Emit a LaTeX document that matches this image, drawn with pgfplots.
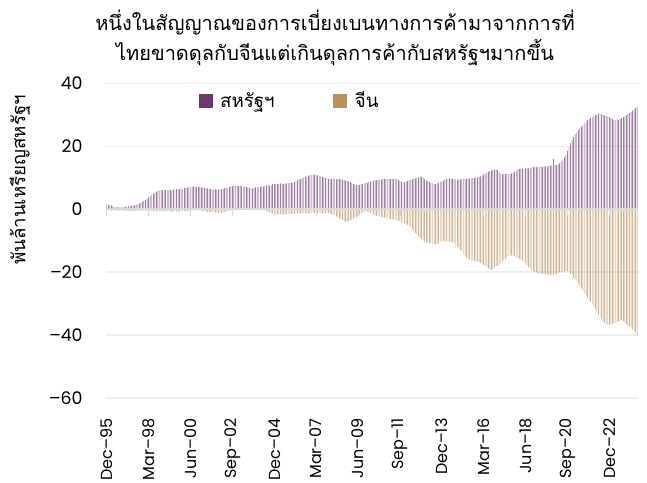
\documentclass[border=0pt]{standalone}
\usepackage{fontspec}
\setmainfont{Poppins}
\newfontfamily\thai[Script=Thai]{Loma}
\usepackage{pgfplots}
\usepackage{pgfplotstable}
\pgfplotsset{compat=1.18}
\definecolor{uspurple}{RGB}{106,58,110}
\definecolor{cntan}{RGB}{185,145,95}
\definecolor{gridgray}{RGB}{238,238,238}
\definecolor{zerogray}{RGB}{217,217,217}

% monthly values, Dec-95 ... Jun-24 (343 months), billion USD
\pgfplotstableread[row sep=\\]{
v\\
1.5\\1.4\\1.3\\1.2\\1.0\\0.8\\0.7\\0.6\\0.6\\0.5\\0.7\\0.6\\
0.8\\0.7\\0.9\\1.0\\1.1\\1.0\\1.3\\1.5\\1.6\\1.9\\2.1\\2.4\\
2.7\\3.0\\3.3\\3.8\\4.2\\4.6\\5.0\\5.3\\5.6\\5.8\\6.0\\6.1\\
6.0\\6.2\\6.1\\6.0\\6.1\\6.2\\6.0\\6.3\\6.2\\6.4\\6.3\\6.5\\
6.4\\6.6\\6.7\\6.8\\6.9\\7.1\\7.2\\7.3\\7.2\\7.3\\7.1\\7.2\\
7.1\\7.0\\6.9\\6.8\\6.7\\6.6\\6.5\\6.4\\6.3\\6.2\\6.3\\6.2\\
6.3\\6.4\\6.3\\6.5\\6.7\\6.8\\7.0\\7.1\\7.2\\7.3\\7.4\\7.5\\
7.5\\7.4\\7.5\\7.3\\7.2\\7.3\\7.1\\7.0\\6.8\\6.7\\6.6\\6.8\\
7.0\\7.1\\7.0\\7.2\\7.3\\7.2\\7.4\\7.5\\7.6\\7.5\\7.6\\8.0\\
8.1\\8.0\\8.1\\8.0\\8.2\\8.1\\8.0\\8.1\\8.2\\8.3\\8.2\\8.4\\
8.5\\8.7\\9.0\\9.2\\9.4\\9.6\\9.8\\10.1\\10.3\\10.5\\10.7\\10.8\\
10.9\\10.9\\11.0\\10.9\\10.8\\10.6\\10.5\\10.3\\10.1\\9.9\\9.8\\9.7\\
9.6\\9.6\\9.7\\9.6\\9.5\\9.6\\9.6\\9.5\\9.4\\9.3\\9.1\\9.0\\
8.9\\8.7\\8.4\\8.1\\7.9\\7.7\\7.6\\7.7\\7.9\\8.1\\8.2\\8.3\\
8.4\\8.6\\8.8\\9.0\\9.1\\9.2\\9.3\\9.4\\9.5\\9.5\\9.6\\9.6\\
9.7\\9.6\\9.7\\9.6\\9.5\\9.6\\9.7\\9.6\\9.3\\9.0\\8.8\\8.6\\
8.6\\8.8\\9.0\\9.2\\9.4\\9.5\\9.6\\9.8\\10.0\\10.1\\10.2\\10.3\\
10.0\\9.6\\9.2\\9.0\\8.7\\8.4\\8.2\\8.1\\8.1\\8.2\\8.4\\8.6\\
8.8\\9.1\\9.4\\9.7\\9.9\\9.8\\9.7\\9.6\\9.5\\9.5\\9.4\\9.4\\
9.5\\9.6\\9.7\\9.6\\9.6\\9.7\\9.8\\9.8\\9.9\\9.9\\10.0\\10.1\\
10.3\\10.5\\10.7\\11.0\\11.3\\11.6\\11.9\\12.1\\12.3\\12.5\\12.6\\12.6\\
12.5\\11.8\\11.3\\11.3\\11.2\\11.3\\11.3\\11.2\\11.3\\11.4\\11.6\\12.0\\
12.4\\12.7\\12.8\\12.9\\13.0\\12.9\\13.0\\13.1\\13.0\\13.2\\13.3\\13.4\\
13.4\\13.3\\13.4\\13.5\\13.4\\13.5\\13.6\\13.7\\13.6\\13.8\\13.9\\14.0\\
16.0\\14.1\\14.0\\14.2\\14.6\\15.2\\15.8\\16.5\\17.4\\18.5\\19.8\\21.0\\
22.0\\23.0\\23.8\\24.5\\25.2\\25.8\\26.3\\26.8\\27.4\\27.9\\28.4\\28.7\\
29.0\\29.3\\29.6\\29.9\\30.2\\30.4\\30.3\\30.2\\30.0\\29.8\\29.7\\29.5\\
29.3\\29.0\\28.7\\28.4\\28.3\\28.6\\28.4\\28.7\\29.0\\29.3\\29.6\\30.0\\
30.3\\30.6\\31.0\\31.4\\31.8\\32.2\\32.7\\
}\usdata

\pgfplotstableread[row sep=\\]{
v\\
-0.3\\-0.2\\-0.3\\-0.4\\-0.3\\-0.4\\-0.3\\-0.5\\-0.4\\-0.3\\-0.4\\-0.5\\
-0.4\\-0.5\\-0.4\\-0.6\\-0.5\\-0.4\\-0.5\\-0.6\\-0.5\\-0.4\\-0.5\\-0.4\\
-0.3\\-0.4\\-0.5\\-0.6\\-0.5\\-0.7\\-0.6\\-0.5\\-0.6\\-0.7\\-0.6\\-0.7\\
-0.6\\-0.7\\-0.6\\-0.5\\-0.6\\-0.7\\-0.8\\-0.7\\-0.6\\-0.7\\-0.8\\-0.7\\
-0.6\\-0.5\\-0.6\\-0.5\\-0.4\\-0.5\\-0.4\\-0.3\\-0.4\\-0.3\\-0.2\\-0.3\\
-0.3\\-0.4\\-0.5\\-0.6\\-0.7\\-0.8\\-0.9\\-0.8\\-0.7\\-0.9\\-1.0\\-1.1\\
-1.2\\-1.3\\-1.2\\-1.0\\-0.9\\-0.8\\-0.6\\-0.5\\-0.4\\-0.3\\-0.2\\-0.2\\
-0.1\\-0.1\\-0.2\\-0.1\\-0.2\\-0.3\\-0.2\\-0.2\\-0.1\\-0.2\\-0.3\\-0.2\\
-0.2\\-0.3\\-0.2\\-0.1\\-0.2\\-0.3\\-0.3\\-0.5\\-0.8\\-1.0\\-1.2\\-1.4\\
-1.5\\-1.6\\-1.5\\-1.6\\-1.5\\-1.6\\-1.7\\-1.5\\-1.6\\-1.5\\-1.4\\-1.5\\
-1.4\\-1.5\\-1.3\\-1.4\\-1.2\\-1.3\\-1.4\\-1.3\\-1.2\\-1.3\\-1.2\\-1.3\\
-1.2\\-1.1\\-1.2\\-1.3\\-1.2\\-1.1\\-1.2\\-1.3\\-1.2\\-1.3\\-1.4\\-1.3\\
-1.4\\-1.6\\-1.8\\-2.0\\-2.3\\-2.6\\-2.8\\-3.1\\-3.4\\-3.7\\-3.9\\-3.9\\
-3.8\\-3.5\\-3.2\\-3.0\\-2.7\\-2.4\\-2.0\\-1.7\\-1.3\\-1.0\\-0.8\\-0.7\\
-0.7\\-0.8\\-1.1\\-1.5\\-1.8\\-2.0\\-2.1\\-2.2\\-2.3\\-2.4\\-2.6\\-2.7\\
-2.8\\-2.9\\-3.0\\-3.1\\-3.2\\-3.3\\-3.4\\-3.5\\-3.6\\-3.8\\-4.0\\-4.2\\
-4.3\\-4.6\\-5.0\\-5.4\\-5.8\\-6.3\\-6.9\\-7.5\\-8.0\\-8.6\\-9.2\\-9.7\\
-10.0\\-10.3\\-10.5\\-10.6\\-10.7\\-10.9\\-11.0\\-11.1\\-11.2\\-11.0\\-10.7\\-10.4\\
-10.2\\-10.1\\-10.2\\-10.3\\-10.2\\-10.3\\-10.4\\-10.5\\-10.8\\-11.3\\-11.9\\-12.5\\
-12.9\\-13.5\\-14.2\\-14.9\\-15.5\\-15.8\\-16.0\\-16.2\\-16.3\\-16.4\\-16.5\\-16.6\\
-16.8\\-17.1\\-17.4\\-17.7\\-18.0\\-18.4\\-18.8\\-19.1\\-19.3\\-19.0\\-18.6\\-18.2\\
-17.9\\-17.5\\-17.0\\-16.6\\-16.2\\-15.8\\-15.3\\-15.0\\-14.8\\-14.7\\-14.7\\-14.9\\
-15.2\\-15.5\\-15.7\\-16.0\\-16.4\\-16.8\\-17.2\\-17.7\\-18.3\\-18.9\\-19.4\\-19.7\\
-19.9\\-20.1\\-20.3\\-20.4\\-20.5\\-20.6\\-20.6\\-20.7\\-20.8\\-20.8\\-20.9\\-20.8\\
-20.8\\-20.7\\-20.5\\-20.3\\-20.1\\-20.0\\-19.9\\-19.8\\-19.7\\-19.8\\-20.0\\-20.6\\
-21.2\\-21.8\\-22.3\\-23.0\\-23.7\\-24.4\\-25.2\\-26.0\\-26.9\\-27.5\\-28.1\\-28.8\\
-29.5\\-30.2\\-31.0\\-31.8\\-32.7\\-33.6\\-34.4\\-35.1\\-35.7\\-36.2\\-36.6\\-36.8\\
-36.8\\-36.6\\-36.4\\-36.3\\-36.2\\-36.0\\-35.7\\-35.4\\-35.2\\-35.6\\-36.1\\-36.6\\
-37.0\\-37.3\\-37.6\\-38.1\\-38.7\\-39.4\\-40.1\\
}\cndata

\begin{document}
\begin{tikzpicture}
\begin{axis}[
  scale only axis,
  width=399pt, height=235.65pt,
  xmin=-0.5, xmax=342.5,
  ymin=-60, ymax=40,
  clip=false,
  axis line style={draw=none},
  tick style={draw=none},
  ytick={-60,-40,-20,0,20,40},
  yticklabels={–60,–40,–20,0,20,40},
  ymajorgrids,
  grid style={gridgray, line width=1.1pt},
  xtick={0,27,54,81,108,135,162,189,216,243,270,297,324},
  xticklabels={Dec–95,Mar–98,Jun–00,Sep–02,Dec–04,Mar–07,Jun–09,Sep–11,Dec–13,Mar–16,Jun–18,Sep–20,Dec–22},
  yticklabel style={font=\fontsize{13}{15}\selectfont},
  xticklabel style={rotate=90, anchor=east, font=\fontsize{12}{14}\selectfont},
  xticklabel shift=12pt,
  yticklabel shift=14pt,
  legend columns=2,
  legend style={draw=none, fill=none, at={(0.166,0.945)}, anchor=west,
    font=\thai\fontsize{14}{16}\selectfont,
    /tikz/every odd column/.append style={column sep=4pt},
    /tikz/every even column/.append style={column sep=42pt}},
]
\addlegendimage{legend image code/.code={\fill[uspurple] (0pt,-4.9pt) rectangle (9.8pt,4.9pt);}}
\addlegendentry{สหรัฐฯ}
\addlegendimage{legend image code/.code={\fill[cntan] (0pt,-4.9pt) rectangle (9.8pt,4.9pt);}}
\addlegendentry{จีน}

\addplot[forget plot, ybar, bar shift=0pt, bar width=0.3, fill=uspurple, draw=none]
  table[x expr=\coordindex, y=v] {\usdata};
\addplot[forget plot, ybar, bar shift=0pt, bar width=0.3, fill=cntan, draw=none]
  table[x expr=\coordindex, y=v] {\cndata};

\draw[zerogray, line width=1.5pt] (axis cs:-0.5,0) -- (axis cs:342.5,0);
\pgfplotsinvokeforeach{0,27,54,81,108,135,162,189,216,243,270,297,324}{
  \draw[zerogray, line width=0.9pt] (axis cs:#1,0) -- ([yshift=-5pt]axis cs:#1,0);
}

\node[font=\thai\fontsize{15}{18}\selectfont] at (rel axis cs:0.4305,1.196)
  {หนึ่งในสัญญาณของการเบี่ยงเบนทางการค้ามาจากการที่};
\node[font=\thai\fontsize{15}{18}\selectfont] at (rel axis cs:0.4305,1.100)
  {ไทยขาดดุลกับจีนแต่เกินดุลการค้ากับสหรัฐฯมากขึ้น};
\node[rotate=90, font=\thai\fontsize{14}{16}\selectfont] at (rel axis cs:-0.1617,0.693)
  {พันล้านเหรียญสหรัฐฯ};

\coordinate (bbl) at (rel axis cs:-0.1992,-0.2712);
\coordinate (btr) at (rel axis cs:1.0169,1.266);
\end{axis}
\pgfresetboundingbox
\useasboundingbox (bbl) rectangle (btr);
\end{tikzpicture}
\end{document}
